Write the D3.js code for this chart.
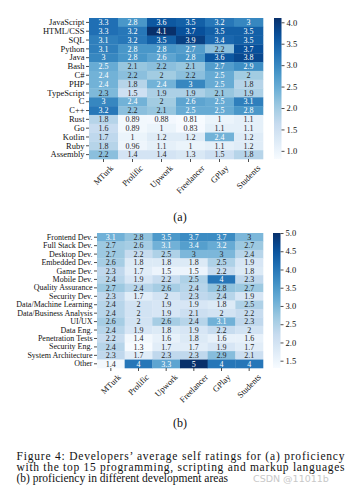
<!DOCTYPE html>
<html>
<head>
<meta charset="utf-8">
<script src="https://d3js.org/d3.v7.min.js"></script>
<style>
  body { margin: 0; background: #fff; }
  svg { display: block; font-family: "Liberation Serif", "Times New Roman", serif; }
  .axis { font-family: "Liberation Serif", "Times New Roman", serif; }
  .axis path.domain { display: none; }
  .axis line { stroke: #222; stroke-width: 0.8; }
  .axis text { fill: #111; font-size: 8.5px; }
  .axis.small text { font-size: 8px; }
</style>
</head>
<body>
<div id="chart"></div>
<script>
// Data
const platforms = ["MTurk", "Prolific", "Upwork", "Freelancer", "GPlay", "Students"];

const languages = ["JavaScript", "HTML/CSS", "SQL", "Python", "Java", "Bash", "C#", "PHP",
  "TypeScript", "C", "C++", "Rust", "Go", "Kotlin", "Ruby", "Assembly"];
const languageRatings = [
  [3.3, 2.8, 3.6, 3.5, 3.2, 3],
  [3.3, 3.2, 4.1, 3.7, 3.5, 3.5],
  [3.1, 3.2, 3.5, 3.9, 3.4, 3.5],
  [3.1, 2.8, 2.8, 2.7, 2.2, 3.7],
  [3, 2.8, 2.6, 2.8, 3.6, 3.8],
  [2.5, 2.1, 2.2, 2.1, 2.7, 2.9],
  [2.4, 2.2, 2, 2.2, 2.5, 2],
  [2.4, 1.8, 2.4, 3, 2.5, 1.8],
  [2.3, 1.5, 1.9, 1.9, 2.1, 1.9],
  [3, 2.4, 2, 2.6, 2.5, 3.1],
  [3.2, 2.2, 2.1, 2.5, 2.5, 2.8],
  [1.8, 0.89, 0.88, 0.81, 1, 1.1],
  [1.6, 0.89, 1, 0.83, 1.1, 1.1],
  [1.7, 1, 1.2, 1.2, 2.4, 1.2],
  [1.8, 0.96, 1.1, 1, 1.1, 1.2],
  [2.2, 1.4, 1.4, 1.3, 1.5, 1.8]
];
const languageTicks = [1.0, 1.5, 2.0, 2.5, 3.0, 3.5, 4.0];

const areas = ["Frontend Dev.", "Full Stack Dev.", "Desktop Dev.", "Embedded Dev.", "Game Dev.",
  "Mobile Dev.", "Quality Assurance", "Security Dev.", "Data/Machine Learning",
  "Data/Business Analysis", "UI/UX", "Data Eng.", "Penetration Tests", "Security Eng.",
  "System Architecture", "Other"];
const areaRatings = [
  [3.1, 2.8, 3.5, 3.7, 3.7, 3],
  [2.7, 2.6, 3.1, 3.4, 3.2, 2.7],
  [2.7, 2.2, 2.5, 3, 3, 2.4],
  [2.6, 1.8, 1.8, 1.8, 2.5, 1.9],
  [2.3, 1.7, 1.5, 1.5, 2.2, 1.8],
  [2.4, 1.9, 2.2, 2.5, 4, 2.3],
  [2.7, 2.4, 2.6, 2.4, 2.8, 2.7],
  [2.3, 1.7, 2, 2.3, 2.4, 1.9],
  [2.4, 2, 1.9, 1.9, 1.8, 2.5],
  [2.4, 2, 1.9, 2.1, 2, 2.2],
  [2.6, 2, 2.6, 2.4, 3.1, 2.3],
  [2.4, 1.9, 1.8, 1.9, 2.2, 2],
  [2.2, 1.4, 1.6, 1.8, 1.6, 1.6],
  [2.4, 1.3, 1.7, 1.7, 1.9, 1.7],
  [2.3, 1.7, 2.3, 2.3, 2.9, 2.1],
  [1.4, 4, 3.3, 5, 4, 4]
];
const areaTicks = [1.5, 2.0, 2.5, 3.0, 3.5, 4.0, 4.5, 5.0];

const captionLines = [
  "Figure 4: Developers\u2019 average self ratings for (a) proficiency",
  "with the top 15 programming, scripting and markup languages",
  "(b) proficiency in different development areas"
];

// Canvas
const width = 351, height = 500;
const svg = d3.select("#chart").append("svg")
  .attr("width", width).attr("height", height);
svg.append("rect").attr("width", width).attr("height", height).attr("fill", "#fff");

const blues = d3.piecewise(d3.interpolateRgb, d3.schemeBlues[9]);
const fmt = d3.format(".2~g");

function luminance(c) {
  const lin = v => { v /= 255; return v <= 0.03928 ? v / 12.92 : Math.pow((v + 0.055) / 1.055, 2.4); };
  const r = d3.rgb(c);
  return 0.2126 * lin(r.r) + 0.7152 * lin(r.g) + 0.0722 * lin(r.b);
}

function drawHeatmap(id, rows, values, ticks, box) {
  const cells = [];
  values.forEach((row, i) => row.forEach((v, j) => cells.push({ row: rows[i], col: platforms[j], v })));
  const ext = d3.extent(cells, d => d.v);

  const x = d3.scaleBand().domain(platforms).range([box.left, box.right]);
  const y = d3.scaleBand().domain(rows).range([box.top, box.bottom]);
  const color = d3.scaleSequential(blues).domain(ext);

  const g = svg.append("g");

  g.selectAll("rect.cell")
    .data(cells)
    .join("rect")
    .attr("class", "cell")
    .attr("x", d => x(d.col))
    .attr("y", d => y(d.row))
    .attr("width", x.bandwidth() + 0.3)
    .attr("height", y.bandwidth() + 0.3)
    .attr("fill", d => color(d.v));

  g.selectAll("text.val")
    .data(cells)
    .join("text")
    .attr("class", "val")
    .attr("x", d => x(d.col) + x.bandwidth() / 2)
    .attr("y", d => y(d.row) + y.bandwidth() / 2)
    .attr("dy", "0.34em")
    .attr("text-anchor", "middle")
    .attr("font-size", 8)
    .attr("fill", d => luminance(color(d.v)) > 0.408 ? "#262626" : "#fff")
    .text(d => fmt(d.v));

  // y axis
  g.append("g")
    .attr("class", box.small ? "axis small" : "axis")
    .attr("transform", `translate(${box.left},0)`)
    .call(d3.axisLeft(y).tickSize(3).tickPadding(1.5))
    .attr("font-family", null).attr("font-size", null);

  // x axis with rotated labels
  const xa = g.append("g")
    .attr("class", "axis")
    .attr("transform", `translate(0,${box.bottom})`)
    .call(d3.axisBottom(x).tickSize(3))
    .attr("font-family", null).attr("font-size", null);
  xa.selectAll(".tick text").each(function () {
    const t = d3.select(this);
    const len = this.getComputedTextLength();
    const half = (len + 8) * 0.7071 / 2;
    t.attr("y", null).attr("dy", "0.32em")
      .attr("text-anchor", "middle")
      .attr("transform", `translate(0,${5 + half}) rotate(-45)`);
  });

  // colorbar
  const cy = d3.scaleLinear().domain(ext).range([box.bottom, box.top]);
  const gradId = "grad-" + id;
  const grad = svg.append("defs").append("linearGradient")
    .attr("id", gradId).attr("x1", 0).attr("x2", 0).attr("y1", 1).attr("y2", 0);
  d3.range(0, 1.0001, 0.05).forEach(t => {
    grad.append("stop").attr("offset", t)
      .attr("stop-color", color(ext[0] + t * (ext[1] - ext[0])));
  });
  g.append("rect")
    .attr("x", box.cbx).attr("y", box.top)
    .attr("width", 7.5).attr("height", box.bottom - box.top)
    .attr("fill", `url(#${gradId})`);
  g.append("g")
    .attr("class", "axis")
    .attr("transform", `translate(${box.cbx + 7.5},0)`)
    .call(d3.axisRight(cy).tickValues(ticks).tickFormat(d3.format(".1f")).tickSize(3).tickPadding(2))
    .attr("font-family", null).attr("font-size", null);

  // sub caption
  svg.append("text")
    .attr("x", box.labelX).attr("y", box.labelY)
    .attr("text-anchor", "middle")
    .attr("font-size", 12)
    .attr("fill", "#111")
    .text(`(${id})`);
}

drawHeatmap("a", languages, languageRatings, languageTicks,
  { left: 89, right: 263, top: 18, bottom: 159, cbx: 274, labelX: 180, labelY: 221 });
drawHeatmap("b", areas, areaRatings, areaTicks,
  { left: 97, right: 263, top: 233, bottom: 368, cbx: 273, labelX: 180, labelY: 427, small: true });

// Figure caption
svg.selectAll("text.caption")
  .data(captionLines)
  .join("text")
  .attr("class", "caption")
  .attr("x", 16.5)
  .attr("y", (d, i) => 460 + i * 11)
  .attr("font-size", 11.5)
  .attr("fill", "#111")
  .attr("textLength", (d, i) => i < 2 ? 328 : null)
  .attr("lengthAdjust", "spacing")
  .text(d => d);

svg.append("text")
  .attr("x", 253).attr("y", 482)
  .attr("font-family", "DejaVu Sans, sans-serif")
  .attr("font-size", 9.5)
  .attr("fill", "#c8c8c8")
  .text("CSDN @11011b");
</script>
</body>
</html>
